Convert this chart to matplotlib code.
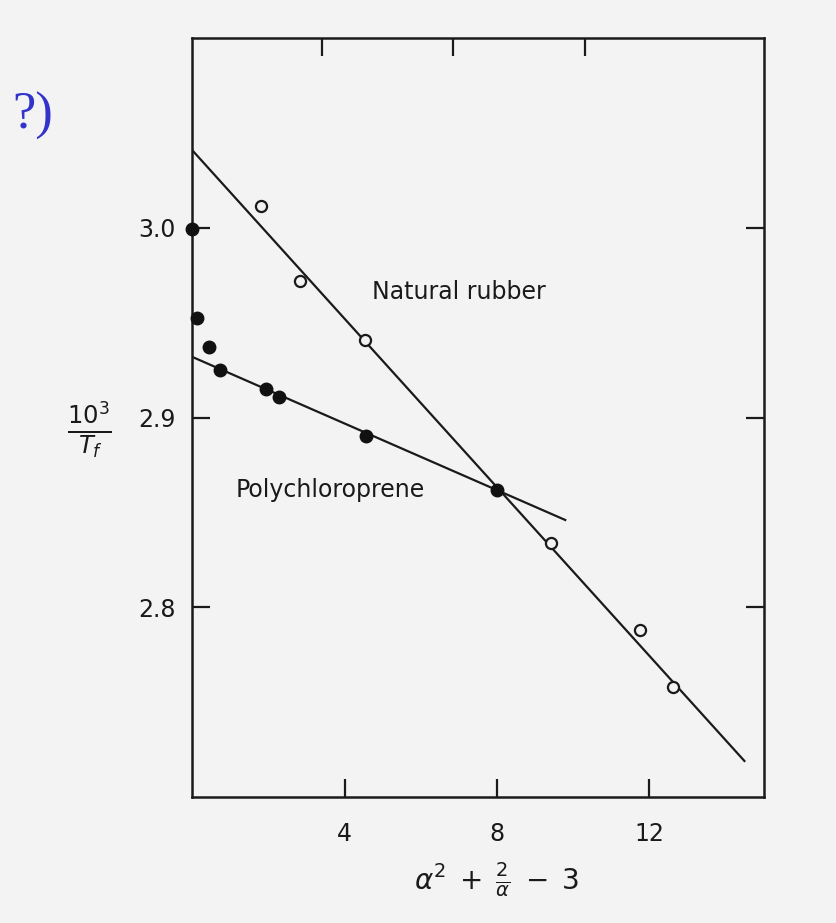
import matplotlib
matplotlib.use("Agg")
import matplotlib.pyplot as plt

# --- data ---
nr_x = [1.81, 2.84, 4.54, 9.42, 11.76, 12.62]
nr_y = [3.0116, 2.972, 2.941, 2.834, 2.788, 2.758]
pc_x = [0.0, 0.13, 0.45, 0.73, 1.94, 2.28, 4.57, 8.0]
pc_y = [2.9995, 2.9526, 2.937, 2.925, 2.915, 2.911, 2.890, 2.862]
nr_line_x = [0.0, 14.49]
nr_line_y = [3.041, 2.719]
pc_line_x = [0.0, 9.79]
pc_line_y = [2.932, 2.846]
x_ticks = [4, 8, 12]
x_tick_labels = ["4", "8", "12"]
top_ticks = [3.4, 6.85, 10.3]
y_ticks = [2.8, 2.9, 3.0]
y_tick_labels = ["2.8", "2.9", "3.0"]

bg = "#f3f3f3"
ink = "#1a1a1a"
fig = plt.figure(figsize=(8.36, 9.23), dpi=100, facecolor=bg)
ax = fig.add_axes([0.2297, 0.1365, 0.684, 0.8223])
ax.set_facecolor(bg)

ax.plot(nr_line_x, nr_line_y, color=ink, lw=1.6, zorder=2)
ax.plot(pc_line_x, pc_line_y, color=ink, lw=1.6, zorder=2)
ax.plot(nr_x, nr_y, "o", ms=8, mfc=bg, mec=ink, mew=1.6, zorder=3,
        clip_on=False)
ax.plot(pc_x, pc_y, "o", ms=9, mfc="#111111", mec="#111111", zorder=3,
        clip_on=False)

ax.set_xlim(0, 15)
ax.set_ylim(2.70, 3.10)
ax.set_xticks(x_ticks)
ax.set_xticklabels(x_tick_labels)
ax.set_yticks(y_ticks)
ax.set_yticklabels(y_tick_labels)
ax.tick_params(axis="both", direction="in", length=13, width=1.6,
               labelsize=17, colors=ink, right=True)
ax.tick_params(axis="x", pad=18)
ax.tick_params(axis="y", pad=12)
for s in ax.spines.values():
    s.set_linewidth(1.8)
    s.set_color(ink)

top = ax.twiny()
top.set_xlim(0, 15)
top.set_xticks(top_ticks)
top.set_xticklabels([])
top.tick_params(axis="x", direction="in", length=13, width=1.6, colors=ink)
for s in top.spines.values():
    s.set_visible(False)

ax.text(4.72, 2.966, "Natural rubber", fontsize=17, color=ink,
        va="center", ha="left")
ax.text(1.15, 2.862, "Polychloroprene", fontsize=17, color=ink,
        va="center", ha="left")

fig.text(0.594, 0.047, r"$\alpha^2\;+\;\frac{2}{\alpha}\;-\;3$", fontsize=20,
         color=ink, ha="center", va="center")
fig.text(0.107, 0.534, r"$\frac{10^3}{T_f}$", fontsize=25, color=ink,
         ha="center", va="center")

fig.text(0.015, 0.874, "?)", fontsize=38, color="#3333cc",
         family=["Liberation Serif", "DejaVu Serif"], ha="left", va="center")

fig.savefig("out.png", dpi=100, facecolor=bg)
